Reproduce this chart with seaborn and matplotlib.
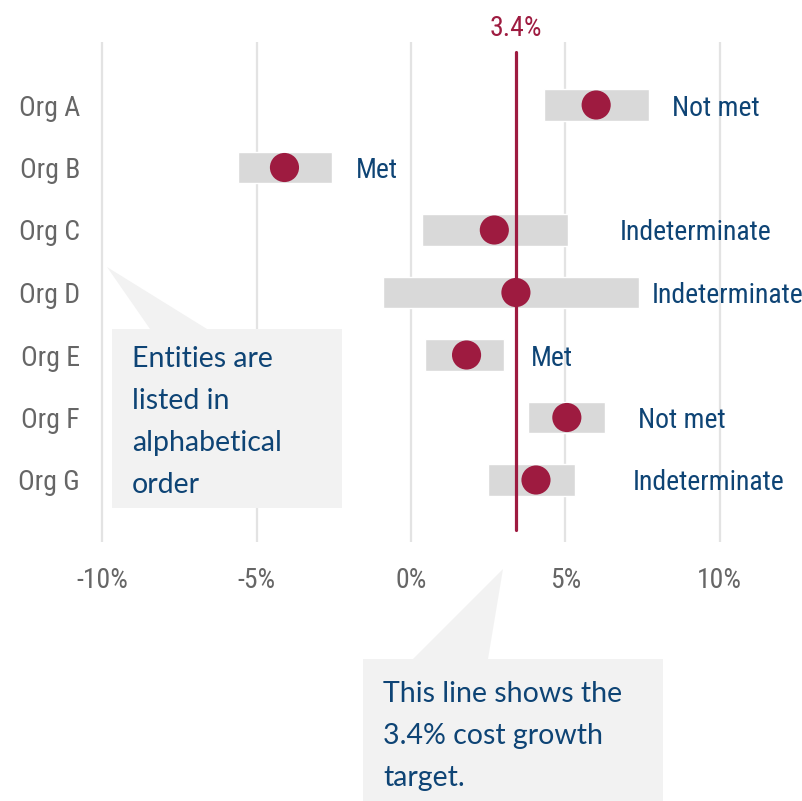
import matplotlib
matplotlib.use("Agg")
import matplotlib.pyplot as plt
from matplotlib import font_manager
from matplotlib.patches import Polygon
import seaborn as sns
import pandas as pd

# ---------------- data ----------------
orgs = ["Org A", "Org B", "Org C", "Org D", "Org E", "Org F", "Org G"]
estimate = [6.0, -4.1, 2.7, 3.4, 1.8, 5.05, 4.05]
ci_low = [4.3, -5.6, 0.35, -0.9, 0.45, 3.8, 2.5]
ci_high = [7.7, -2.55, 5.1, 7.4, 3.0, 6.3, 5.3]
status = ["Not met", "Met", "Indeterminate", "Indeterminate", "Met", "Not met", "Indeterminate"]
status_x = [8.45, -1.8, 6.75, 7.8, 3.9, 7.35, 7.2]
target = 3.4
x_ticks = [-10, -5, 0, 5, 10]
x_tick_labels = ["-10%", "-5%", "0%", "5%", "10%"]
note_left = ["Entities are", "listed in", "alphabetical", "order"]
note_bottom = ["This line shows the", "3.4% cost growth", "target."]

df = pd.DataFrame({"org": orgs, "est": estimate, "lo": ci_low, "hi": ci_high})

# ---------------- style ----------------
fonts = font_manager.fontManager.ttflist
names = {f.name for f in fonts}
narrow = None
for pref in ["Liberation Sans Narrow", "Arial Narrow", "Roboto Condensed", "Open Sans Condensed",
             "Noto Sans Condensed", "DejaVu Sans Condensed"]:
    if pref in names:
        narrow = pref
        break
if narrow is None:
    for f in fonts:
        if ("Narrow" in f.name or "Condensed" in f.name) and "Mono" not in f.name and "Serif" not in f.name:
            narrow = f.name
            break
if narrow is None or narrow.startswith("DejaVu"):
    narrow, NSIZE = "Liberation Sans", 18
else:
    NSIZE = 20
box_font = "Lato" if "Lato" in names else "DejaVu Sans"

sns.set_theme(style="white")
plt.rcParams["font.family"] = [narrow, "DejaVu Sans"]

RED = "#9E1B40"
BLUE = "#0E4475"
GRAY_TXT = "#666666"
BAR = "#D9D9D9"
GRID = "#E3E3E3"
BOXC = "#F2F2F2"

W, H = 803, 801
fig = plt.figure(figsize=(W / 100, H / 100), dpi=100)

def fx(px):
    return px / W

def fy(py):
    return 1 - py / H

# axes placement in pixels
ppu = 30.86
x0 = 411
xl, xr = -10.3, 10.3
ax_left = x0 + xl * ppu
ax_right = x0 + xr * ppu
ax_top, ax_bot = 42, 542
ax = fig.add_axes([fx(ax_left), fy(ax_bot), (ax_right - ax_left) / W, (ax_bot - ax_top) / H])

# confidence bars
ax.barh(df["org"], df["hi"] - df["lo"], left=df["lo"], height=0.51, color=BAR, zorder=2)
# target line
ax.axvline(target, ymin=(ax_bot - 530) / 500, ymax=(ax_bot - 52) / 500, color=RED, lw=2.3, zorder=3)
# points
sns.scatterplot(data=df, x="est", y="org", ax=ax, s=440, color=RED, edgecolor="none", zorder=4, legend=False)

ax.set_xlim(xl, xr)
row_px = 62.5
ax.set_ylim(6 + (ax_bot - 480) / row_px, -(105 - ax_top) / row_px)

ax.set_xticks(x_ticks)
ax.set_xticklabels(x_tick_labels)
ax.grid(axis="x", color=GRID, lw=1.6, zorder=0)
ax.grid(axis="y", visible=False)
for s in ax.spines.values():
    s.set_visible(False)
ax.tick_params(axis="x", length=0, pad=18, labelsize=NSIZE, labelcolor=GRAY_TXT)
ax.tick_params(axis="y", length=0, pad=9.5, labelsize=NSIZE, labelcolor=GRAY_TXT)
ax.set_xlabel("")
ax.set_ylabel("")

# status labels
for i, (lab, sx) in enumerate(zip(status, status_x)):
    ax.text(sx, i, lab, color=BLUE, fontsize=NSIZE, ha="left", va="center_baseline", zorder=5)

# target label
ax.text(target, 1.0 + 17 / 500, "3.4%", transform=ax.get_xaxis_transform(), color=RED,
        fontsize=NSIZE, ha="center", va="center_baseline")

# callout boxes
def poly(pts, **kw):
    p = Polygon([(fx(x), fy(y)) for x, y in pts], closed=True, transform=fig.transFigure,
                facecolor=BOXC, edgecolor="none", **kw)
    fig.add_artist(p)

poly([(112, 329), (150, 329), (107, 267), (207, 329), (342, 329), (342, 508), (112, 508)], zorder=6)
poly([(363, 659), (413, 659), (503, 569), (488, 659), (663, 659), (663, 805), (363, 805)], zorder=6)

for k, line in enumerate(note_left):
    fig.text(fx(132), fy(367 + 42 * k), line, fontsize=20.5, color=BLUE, family=box_font,
             ha="left", va="baseline", zorder=7)
for k, line in enumerate(note_bottom):
    fig.text(fx(383), fy(702 + 42 * k), line, fontsize=20.5, color=BLUE, family=box_font,
             ha="left", va="baseline", zorder=7)

fig.savefig("out.png", dpi=100)
